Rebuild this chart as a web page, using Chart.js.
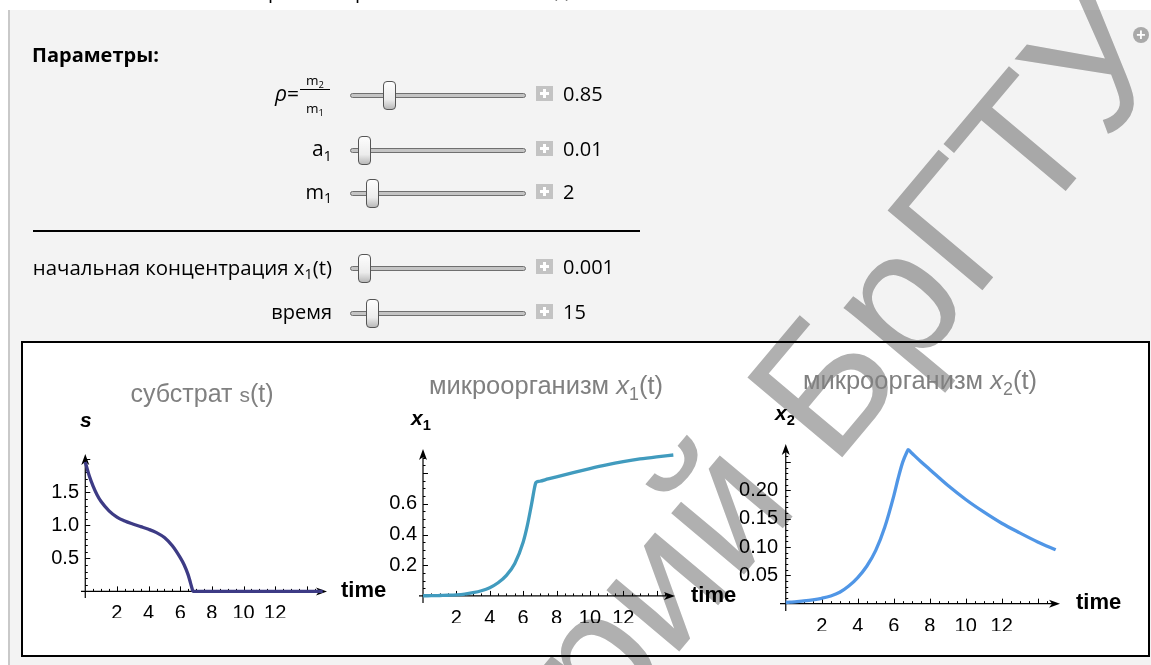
<!DOCTYPE html>
<html>
<head>
<meta charset="utf-8">
<script src="https://cdn.jsdelivr.net/npm/chart.js@4.4.0/dist/chart.umd.min.js"></script>
<style>
html, body { margin: 0; padding: 0; width: 1151px; height: 665px; overflow: hidden; background: #fff; position: relative; }
body { font-family: "Open Sans", "Noto Sans", sans-serif; color: #000; }
.abs { position: absolute; white-space: nowrap; }
#painel { position: absolute; left: 8px; top: 10px; width: 1143px; height: 655px; background: #f3f3f3; border-left: 2px solid #c9c9c9; box-sizing: border-box; }
#moldura { position: absolute; left: 21px; top: 341px; width: 1129px; height: 316px; border: 2px solid #000; background: #fff; box-sizing: border-box; }
.trilho { position: absolute; height: 5px; background: #c4c4c4; border: 1px solid #6f6f6f; border-radius: 3px; box-sizing: border-box; }
.cursor { position: absolute; width: 13px; height: 29px; border: 1px solid #555; border-radius: 4px; box-sizing: border-box;
  background: linear-gradient(to bottom, #fdfdfd 0%, #ececec 65%, #b9b9b9 100%); }
.mais { position: absolute; width: 17px; height: 15px; background: #c3c3c3; }
.mais::before, .mais::after { content: ""; position: absolute; background: #fff; }
.mais::before { left: 4px; top: 6px; width: 9px; height: 3px; }
.mais::after { left: 7px; top: 3px; width: 3px; height: 9px; }
canvas.grafico { position: absolute; }
#marca { position: absolute; left: 0; top: 0; pointer-events: none; mix-blend-mode: multiply; }
.sub { font-size: 0.7em; position: relative; top: 0.3em; }
</style>
</head>
<body>
<div id="painel"></div>
<div id="moldura"></div>
<canvas id="graficoS" class="grafico"></canvas>
<canvas id="graficoX1" class="grafico"></canvas>
<canvas id="graficoX2" class="grafico"></canvas>
<canvas id="marca" width="1151" height="665"></canvas>

<script>
// ==================== DADOS ====================
const tempo = [0, 0.25, 0.5, 0.75, 1, 1.5, 2, 2.5, 3, 3.5, 4, 4.5, 5, 5.5, 6, 6.25, 6.5, 6.75, 6.8, 7, 7.5, 8, 9, 10, 11, 12, 13, 14, 15];
const substrato = [1.96, 1.75, 1.59, 1.46, 1.36, 1.22, 1.125, 1.065, 1.02, 0.98, 0.94, 0.89, 0.815, 0.69, 0.51, 0.40, 0.25, 0.04, 0, 0, 0, 0, 0, 0, 0, 0, 0, 0, 0];
const micro1 = [0.001, 0.0013, 0.0017, 0.0022, 0.003, 0.0045, 0.007, 0.012, 0.021, 0.034, 0.054, 0.086, 0.134, 0.212, 0.35, 0.458, 0.595, 0.735, 0.742, 0.747, 0.762, 0.776, 0.803, 0.829, 0.853, 0.874, 0.892, 0.906, 0.918];
const micro2 = [0.002, 0.0026, 0.0032, 0.0039, 0.0047, 0.0067, 0.0095, 0.0135, 0.02, 0.031, 0.046, 0.066, 0.094, 0.135, 0.19, 0.222, 0.25, 0.269, 0.272, 0.266, 0.251, 0.237, 0.209, 0.184, 0.162, 0.142, 0.125, 0.109, 0.095];

const ticksTempo = [2, 4, 6, 8, 10, 12];
const ticksS = [0.5, 1.0, 1.5];
const ticksX1 = [0.2, 0.4, 0.6];
const ticksX2 = [0.05, 0.10, 0.15, 0.20];

const valoresParam = ["0.85", "0.01", "2", "0.001", "15"];

// ==================== LAYOUT DO PAINEL ====================
const linhasY = [95, 150, 193, 268, 313];      // centro de cada trilho
const cursoresX = [389, 364, 372, 364, 372];   // centro de cada cursor

function texto(html, x, base, size, opts = {}) {
    const d = document.createElement("div");
    d.className = "abs";
    d.innerHTML = html;
    const fam = opts.family || '"Open Sans", sans-serif';
    const k = opts.k || 0.888;
    d.style.fontFamily = fam;
    d.style.fontSize = size + "px";
    d.style.lineHeight = size + "px";
    d.style.top = (base - k * size) + "px";
    if (opts.align === "right") d.style.right = (1151 - x) + "px";
    else if (opts.align === "center") { d.style.left = x + "px"; d.style.transform = "translateX(-50%)"; }
    else d.style.left = x + "px";
    if (opts.color) d.style.color = opts.color;
    if (opts.weight) d.style.fontWeight = opts.weight;
    if (opts.style) d.style.fontStyle = opts.style;
    document.body.appendChild(d);
    return d;
}

// fragmentos do título cortado no topo
texto("р", 268, -1, 20);
texto("р", 355, -1, 20);
texto("(t)", 552, -2, 20);

texto("Параметры:", 32, 63, 20, { weight: "bold" });

// rótulos das linhas
texto('<i>ρ</i>=', 299, 102, 21, { align: "right" });
texto('m<span class="sub">2</span>', 315, 86, 13.5, { align: "center" });
texto('m<span class="sub">1</span>', 315, 114, 13.5, { align: "center" });
const barra = document.createElement("div");
barra.className = "abs";
Object.assign(barra.style, { left: "300px", top: "89px", width: "30px", height: "1px", background: "#000" });
document.body.appendChild(barra);

texto('a<span class="sub">1</span>', 332, 157, 21, { align: "right" });
texto('m<span class="sub">1</span>', 332, 200, 20, { align: "right" });
texto('начальная концентрация x<span class="sub">1</span>(t)', 332, 275, 20.4, { align: "right" });
texto('время', 332, 320, 20, { align: "right" });

linhasY.forEach((y, i) => {
    const t = document.createElement("div");
    t.className = "trilho";
    Object.assign(t.style, { left: "350px", width: "176px", top: (y - 2.5) + "px" });
    document.body.appendChild(t);
    const c = document.createElement("div");
    c.className = "cursor";
    Object.assign(c.style, { left: (cursoresX[i] - 6.5) + "px", top: (y - 14.5) + "px" });
    document.body.appendChild(c);
    const m = document.createElement("div");
    m.className = "mais";
    Object.assign(m.style, { left: "536px", top: (y - 9) + "px" });
    document.body.appendChild(m);
    texto(valoresParam[i], 563, y + 7, 20);
});

const linha = document.createElement("div");
linha.className = "abs";
Object.assign(linha.style, { left: "33px", top: "230px", width: "607px", height: "2px", background: "#000" });
document.body.appendChild(linha);

// ícone no canto
const icone = document.createElement("div");
icone.className = "abs";
Object.assign(icone.style, { left: "1133px", top: "27px", width: "16px", height: "16px", borderRadius: "8px", background: "#a9a9a9",
    color: "#fff", font: "bold 16px/16px 'Liberation Sans', sans-serif", textAlign: "center" });
icone.textContent = "+";
document.body.appendChild(icone);

// ==================== TEXTOS DOS GRÁFICOS ====================
const LS = { family: '"Liberation Sans", Arial, sans-serif', k: 0.8465 };
texto('субстрат <span style="font-size:21px">s</span>(t)', 202, 402, 25, { ...LS, align: "center", color: "#808080" });
texto('микроорганизм <i>x</i><span class="sub">1</span>(t)', 546, 395, 25.5, { ...LS, align: "center", color: "#808080" });
texto('микроорганизм <i>x</i><span class="sub">2</span>(t)', 920, 390, 25.5, { ...LS, align: "center", color: "#808080" });

texto('<b><i>s</i></b>', 80, 427, 21, LS);
texto('<b><i>x</i><span class="sub">1</span></b>', 411, 425, 21, LS);
texto('<b><i>x</i><span class="sub">2</span></b>', 775, 420, 21, LS);

texto('time', 341, 598, 22, { ...LS, weight: "bold" });
texto('time', 691, 603, 22, { ...LS, weight: "bold" });
texto('time', 1076, 610, 22, { ...LS, weight: "bold" });

// ==================== PLUGIN DOS EIXOS ====================
const eixosPlugin = {
    id: "eixos",
    beforeDatasetsDraw(chart, args, o) {
        const { ctx, chartArea: a, scales: { x, y } } = chart;
        const x0 = x.getPixelForValue(0), y0 = y.getPixelForValue(0);
        ctx.save();
        ctx.strokeStyle = "#000";
        ctx.fillStyle = "#000";
        ctx.lineWidth = 1.2;
        ctx.beginPath();
        ctx.moveTo(a.left, y0); ctx.lineTo(a.right - 6, y0);
        ctx.moveTo(x0, a.bottom); ctx.lineTo(x0, a.top + 6);
        ctx.stroke();
        ctx.beginPath();
        ctx.moveTo(a.right, y0); ctx.lineTo(a.right - 11, y0 - 4); ctx.lineTo(a.right - 8, y0); ctx.lineTo(a.right - 11, y0 + 4); ctx.closePath();
        ctx.moveTo(x0, a.top); ctx.lineTo(x0 - 4, a.top + 11); ctx.lineTo(x0, a.top + 8); ctx.lineTo(x0 + 4, a.top + 11); ctx.closePath();
        ctx.fill();
        ctx.lineWidth = 1;
        ctx.beginPath();
        for (let v = o.xPasso; v <= o.xFim + 1e-9; v += o.xPasso) {
            const px = Math.round(x.getPixelForValue(v)) + 0.5;
            const maior = Math.abs(v / o.xMaior - Math.round(v / o.xMaior)) < 1e-6;
            ctx.moveTo(px, y0); ctx.lineTo(px, y0 - (maior ? 5 : 2.5));
        }
        for (let v = o.yPasso; v <= o.yFim + 1e-9; v += o.yPasso) {
            const py = Math.round(y.getPixelForValue(v)) + 0.5;
            const maior = Math.abs(v / o.yMaior - Math.round(v / o.yMaior)) < 1e-6;
            ctx.moveTo(x0, py); ctx.lineTo(x0 + (maior ? 5 : 2.5), py);
        }
        ctx.stroke();
        ctx.restore();
    }
};

// ==================== FUNÇÃO PARA CRIAR GRÁFICOS ====================
function criarGrafico(id, area, serie, cor, xMin, xMax, yMin, yMax, ticksY, casas, eixos) {
    const cv = document.getElementById(id);
    const w = area.right - area.left + 70, h = area.bottom - area.top + 60;
    cv.width = w; cv.height = h;
    cv.style.left = (area.left - 60) + "px";
    cv.style.top = (area.top - 10) + "px";
    const fonte = { family: '"Liberation Sans", Arial, sans-serif', size: 20 };
    return new Chart(cv, {
        type: "line",
        data: { datasets: [{ data: tempo.map((t, i) => ({ x: t, y: serie[i] })), borderColor: cor, borderWidth: 3.3,
            pointRadius: 0, fill: false, cubicInterpolationMode: "monotone" }] },
        options: {
            responsive: false,
            animation: false,
            layout: { padding: { left: 10, top: 10, right: 10, bottom: 30 } },
            plugins: { legend: { display: false }, tooltip: { enabled: false }, title: { display: false }, eixos },
            scales: {
                x: {
                    type: "linear", min: xMin, max: xMax,
                    afterFit: s => { s.height = 20; },
                    afterBuildTicks: s => { s.ticks = ticksTempo.map(v => ({ value: v })); },
                    grid: { display: false, drawTicks: false }, border: { display: false },
                    ticks: { autoSkip: false, maxRotation: 0, padding: 3, color: "#000", font: fonte, callback: v => String(v) }
                },
                y: {
                    type: "linear", min: yMin, max: yMax,
                    afterFit: s => { s.width = 50; },
                    afterBuildTicks: s => { s.ticks = ticksY.map(v => ({ value: v })); },
                    grid: { display: false, drawTicks: false }, border: { display: false },
                    ticks: { autoSkip: false, padding: 2, color: "#000", font: fonte, callback: v => v.toFixed(casas) }
                }
            }
        },
        plugins: [eixosPlugin]
    });
}

criarGrafico("graficoS", { left: 81, right: 327, top: 450, bottom: 598 }, substrato, "#3d3b85",
    -0.27, 15.27, -0.1, 2.08, ticksS, 1, { xPasso: 0.5, xMaior: 2, xFim: 14.5, yPasso: 0.1, yMaior: 0.5, yFim: 2.0 });
criarGrafico("graficoX1", { left: 419, right: 675, top: 445, bottom: 603 }, micro1, "#419bbe",
    -0.24, 15.1, -0.046, 0.957, ticksX1, 1, { xPasso: 0.5, xMaior: 2, xFim: 14.5, yPasso: 0.05, yMaior: 0.2, yFim: 0.9 });
criarGrafico("graficoX2", { left: 780, right: 1060, top: 440, bottom: 611 }, micro2, "#5096e6",
    -0.32, 15.24, -0.013, 0.282, ticksX2, 2, { xPasso: 0.5, xMaior: 2, xFim: 14.5, yPasso: 0.01, yMaior: 0.05, yFim: 0.27 });

// ==================== MARCA D'ÁGUA ====================
(function marca() {
    const ctx = document.getElementById("marca").getContext("2d");
    const txt = "Репозиторий БрГТУ";
    ctx.font = '180px "Liberation Sans", Arial, sans-serif';
    const off = ctx.measureText("Репозиторий Бр").width;
    const mg = ctx.measureText("Г");
    const lx = off - mg.actualBoundingBoxLeft, ly = -mg.actualBoundingBoxAscent;
    const th = 50 * Math.PI / 180;
    const u = [Math.cos(th), -Math.sin(th)], v = [Math.sin(th), Math.cos(th)];
    const canto = [887, 211];
    const ox = canto[0] - (lx * u[0] + ly * v[0]);
    const oy = canto[1] - (lx * u[1] + ly * v[1]);
    ctx.translate(ox, oy);
    ctx.rotate(-th);
    ctx.fillStyle = "#b0b0b0";
    ctx.fillText(txt, 0, 0);
})();
</script>
</body>
</html>
